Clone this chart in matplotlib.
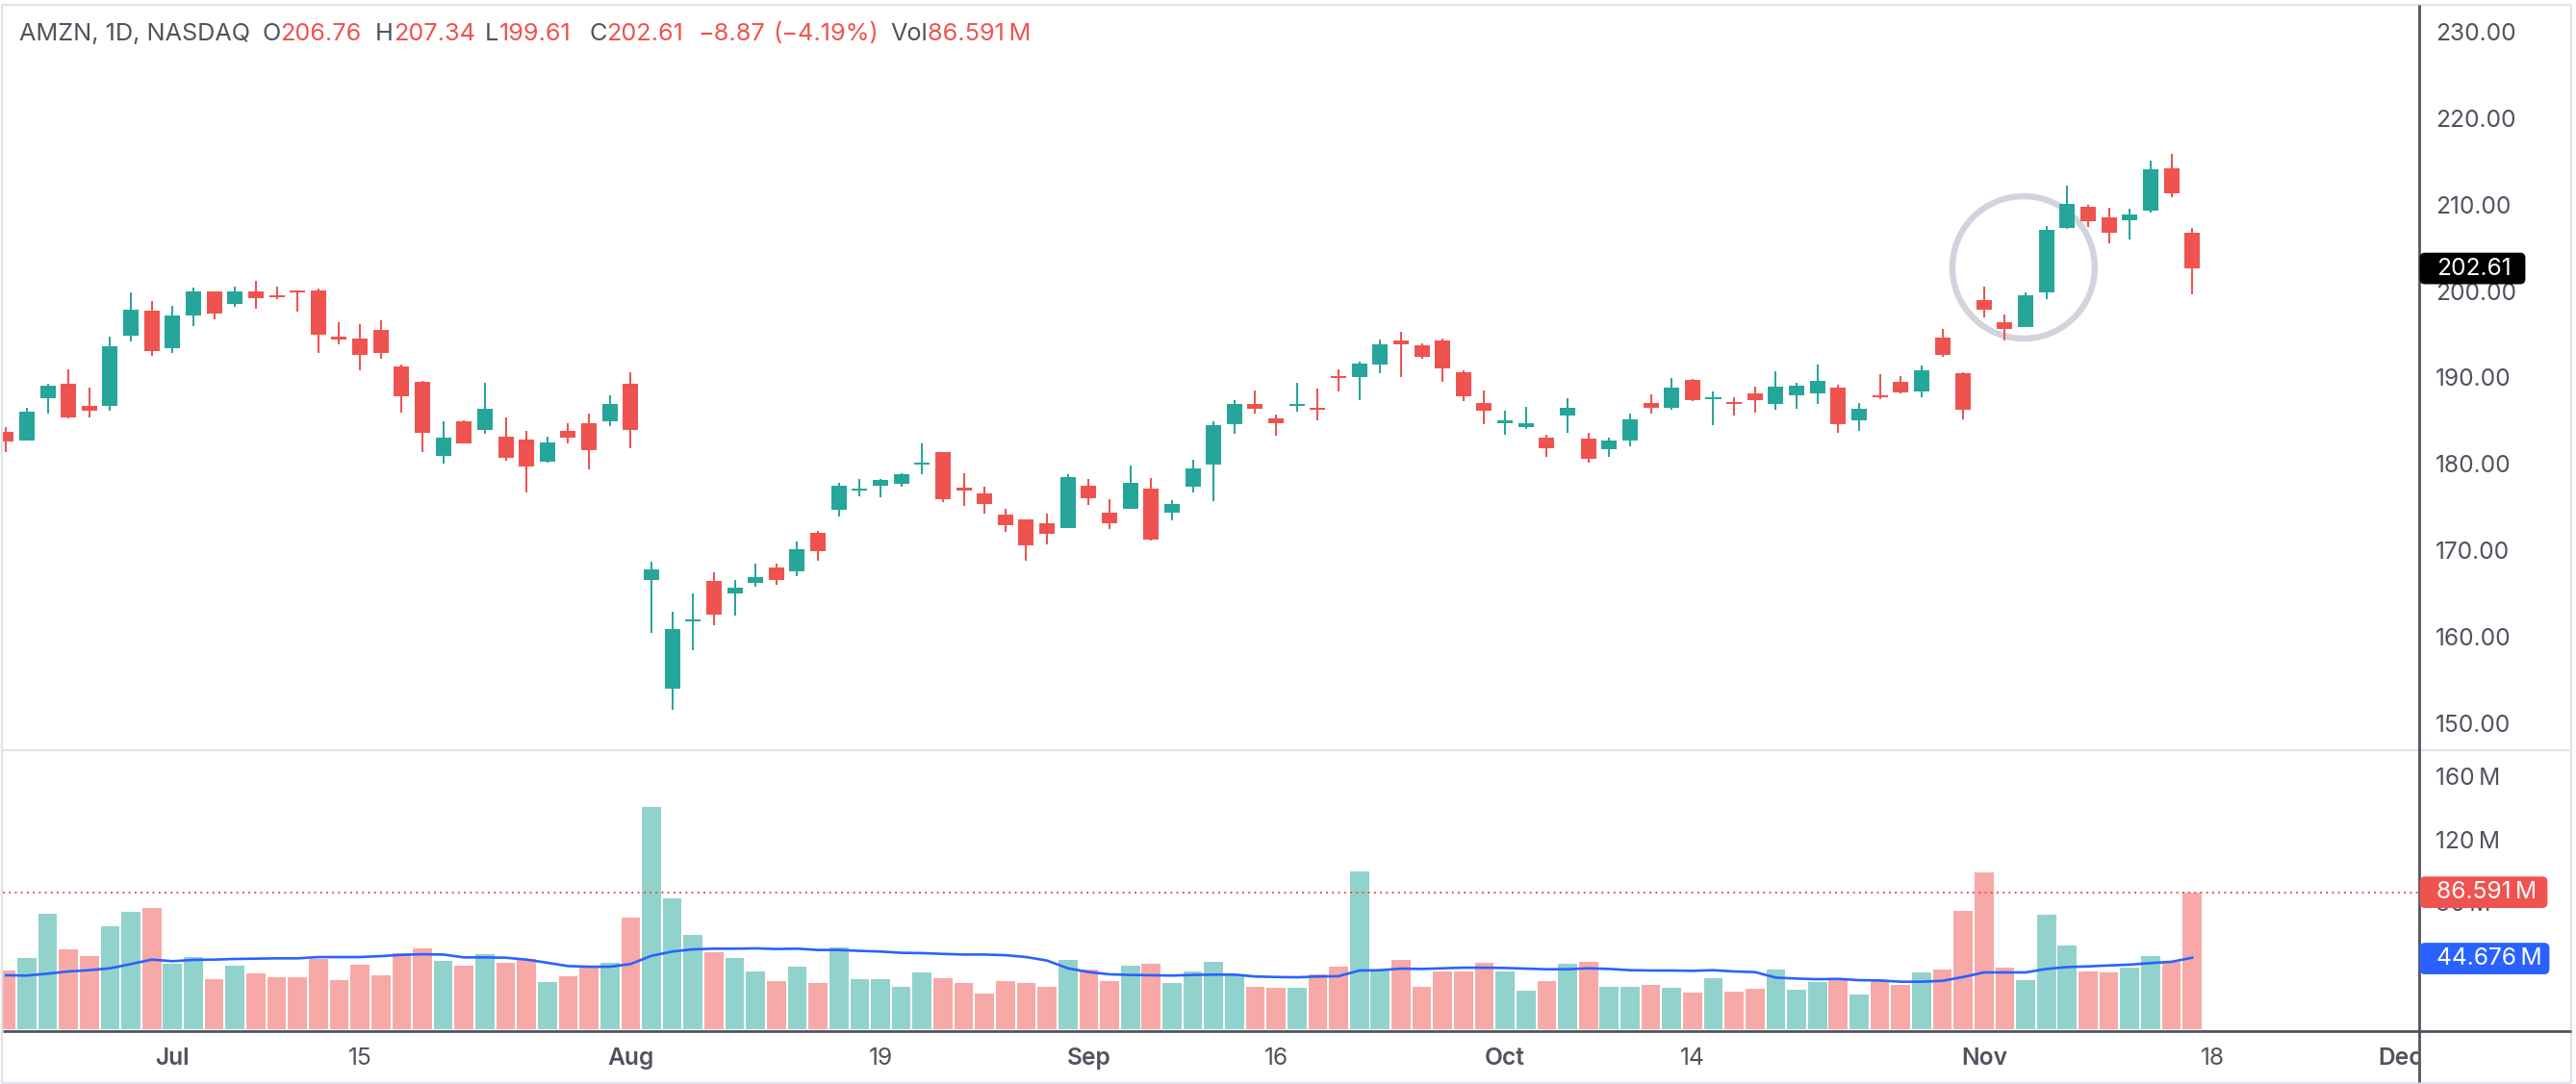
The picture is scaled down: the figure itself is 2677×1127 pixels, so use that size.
import matplotlib
matplotlib.use("Agg")
import matplotlib.pyplot as plt
from matplotlib.patches import Ellipse, FancyBboxPatch
from matplotlib.transforms import Bbox, TransformedBbox

plt.rcParams["font.family"] = ["Inter", "DejaVu Sans"]

# daily candles
opens = [183.71, 182.69, 187.59, 189.28, 186.72, 186.72, 194.81, 197.71, 193.38, 197.18,
         199.97, 198.50, 199.97, 199.52, 200.08, 200.08, 194.74, 194.51, 195.49, 191.27,
         189.47, 180.92, 184.91, 183.93, 183.14, 182.81, 180.25, 183.82, 184.69, 184.92,
         189.26, 166.54, 153.96, 161.75, 166.43, 164.98, 166.21, 167.99, 167.54, 172.00,
         174.67, 176.90, 177.46, 177.68, 179.91, 181.35, 177.23, 176.56, 174.11, 173.56,
         173.11, 172.56, 177.46, 174.34, 174.78, 177.12, 174.34, 177.34, 179.91, 184.58,
         186.92, 185.25, 186.70, 186.47, 190.15, 190.04, 191.49, 194.27, 193.71, 194.27,
         190.59, 187.03, 184.69, 184.25, 183.02, 185.58, 182.91, 181.69, 182.69, 187.03,
         186.47, 189.70, 187.48, 187.14, 188.14, 186.92, 187.92, 188.14, 188.81, 185.03,
         187.92, 189.48, 188.37, 194.60, 190.48, 198.95, 196.39, 195.83, 199.84, 207.30,
         209.75, 208.52, 208.19, 209.30, 214.20, 206.76]
highs = [184.24, 186.49, 189.28, 190.94, 188.83, 194.74, 199.86, 198.84, 198.27, 200.38,
         199.97, 200.49, 201.17, 200.49, 200.08, 200.27, 196.39, 196.17, 196.62, 191.50,
         189.58, 184.91, 185.03, 189.39, 185.37, 183.78, 183.14, 184.69, 185.81, 187.92,
         190.60, 168.66, 162.87, 164.98, 167.43, 166.54, 168.44, 168.44, 171.00, 172.22,
         177.79, 178.24, 178.24, 178.90, 182.36, 181.35, 178.90, 177.34, 174.78, 173.56,
         174.23, 178.79, 178.24, 175.90, 179.79, 178.35, 175.79, 180.46, 184.92, 187.37,
         188.48, 185.70, 189.37, 188.70, 190.93, 191.82, 194.38, 195.27, 193.94, 194.49,
         190.82, 188.48, 186.14, 186.59, 183.36, 187.59, 183.58, 183.02, 185.81, 188.03,
         189.93, 189.82, 188.37, 187.70, 188.92, 190.71, 189.37, 191.49, 189.15, 187.03,
         190.37, 190.15, 191.37, 195.61, 190.59, 200.51, 197.28, 199.84, 207.52, 212.20,
         209.97, 209.64, 209.53, 215.09, 215.87, 207.34]
lows = [181.38, 182.69, 185.82, 185.25, 185.37, 186.16, 194.17, 192.48, 192.82, 195.94,
        196.73, 198.16, 197.94, 199.06, 197.60, 192.82, 193.83, 190.82, 192.14, 185.93,
        181.38, 180.02, 182.35, 183.48, 180.36, 176.67, 180.13, 182.35, 179.35, 184.36,
        181.80, 160.42, 151.51, 158.41, 161.31, 162.42, 165.76, 165.99, 166.99, 168.77,
        173.89, 176.23, 176.12, 177.34, 178.79, 175.56, 175.12, 174.23, 172.11, 168.77,
        170.66, 172.56, 175.23, 172.44, 174.78, 171.11, 173.45, 176.68, 175.67, 183.47,
        185.81, 183.24, 186.03, 185.03, 188.37, 187.37, 190.48, 190.04, 192.15, 189.48,
        187.25, 184.58, 183.36, 184.02, 180.80, 183.58, 180.13, 180.80, 182.02, 185.81,
        186.25, 187.25, 184.47, 185.58, 185.92, 186.25, 186.36, 186.92, 183.58, 183.80,
        187.48, 188.15, 187.70, 192.38, 185.14, 196.94, 194.27, 195.83, 199.06, 207.19,
        207.41, 205.52, 205.96, 209.08, 210.86, 199.61]
closes = [182.58, 186.04, 189.05, 185.37, 186.16, 193.61, 197.82, 193.04, 197.18, 199.97,
          197.41, 199.97, 199.18, 199.29, 199.85, 194.92, 194.40, 192.59, 192.82, 187.81,
          183.60, 183.03, 182.35, 186.38, 180.70, 179.68, 182.47, 183.03, 181.58, 186.92,
          183.91, 167.77, 160.86, 161.98, 162.53, 165.65, 166.88, 166.54, 170.11, 169.88,
          177.46, 177.12, 178.12, 178.79, 180.13, 175.90, 176.90, 175.34, 172.89, 170.55,
          171.89, 178.46, 176.01, 173.11, 177.79, 171.22, 175.34, 179.46, 184.47, 186.92,
          186.36, 184.69, 186.92, 186.25, 189.93, 191.60, 193.82, 193.82, 192.38, 191.04,
          187.81, 186.14, 185.03, 184.69, 181.80, 186.47, 180.57, 182.69, 185.14, 186.47,
          188.81, 187.37, 187.70, 186.92, 187.37, 188.92, 189.04, 189.59, 184.58, 186.36,
          187.70, 188.26, 190.82, 192.60, 186.25, 197.83, 195.61, 199.50, 207.08, 210.08,
          208.08, 206.74, 208.86, 214.09, 211.31, 202.61]

# volume in millions
volumes = [37.1, 45.0, 73.0, 50.5, 46.2, 65.1, 74.2, 76.6, 41.4, 45.6,
           31.6, 40.1, 35.3, 32.8, 32.8, 44.4, 31.0, 40.8, 34.1, 48.1,
           51.1, 43.2, 40.1, 47.4, 42.0, 44.4, 29.8, 33.5, 39.5, 42.0,
           70.6, 140.5, 82.7, 59.6, 48.7, 45.0, 36.5, 30.4, 39.5, 29.2,
           51.7, 31.6, 31.6, 26.8, 35.9, 32.2, 29.2, 22.5, 30.4, 29.2,
           26.8, 43.8, 37.7, 30.4, 40.1, 41.4, 29.2, 36.5, 42.6, 34.7,
           26.8, 26.2, 26.2, 34.7, 39.5, 99.8, 37.1, 43.8, 26.8, 36.5,
           36.5, 42.0, 36.5, 24.3, 30.4, 41.4, 42.6, 26.8, 26.8, 28.0,
           26.2, 23.1, 32.2, 23.7, 25.5, 37.7, 24.9, 29.8, 31.6, 21.9,
           30.4, 28.0, 35.9, 37.7, 74.8, 99.1, 38.9, 31.0, 72.4, 52.9,
           36.5, 35.9, 38.9, 46.2, 42.6, 86.591]
vol_ma = [34.1, 33.9, 35.1, 36.5, 37.3, 38.5, 41.2, 44.0, 43.0, 43.8,
          44.0, 44.4, 44.6, 44.8, 44.8, 45.6, 45.6, 45.6, 46.2, 47.0,
          47.4, 47.2, 45.4, 45.4, 45.2, 44.0, 42.0, 39.9, 39.5, 39.5,
          41.2, 46.4, 49.1, 50.5, 50.9, 50.9, 51.1, 50.7, 50.9, 50.1,
          50.1, 49.5, 49.1, 48.3, 48.1, 47.6, 47.2, 47.2, 46.8, 45.6,
          43.4, 38.5, 36.1, 34.7, 34.3, 34.1, 33.9, 34.3, 34.5, 34.5,
          33.3, 33.0, 32.8, 33.3, 33.5, 37.1, 37.3, 38.3, 38.1, 38.5,
          38.9, 38.9, 38.7, 38.3, 37.9, 37.9, 38.5, 38.1, 37.3, 37.1,
          37.1, 36.9, 37.3, 36.5, 36.1, 32.6, 32.0, 31.6, 31.8, 31.0,
          30.8, 30.0, 30.0, 30.6, 33.0, 35.9, 35.9, 35.9, 38.1, 39.3,
          39.7, 40.3, 40.8, 41.8, 42.6, 45.2]

last_close = 202.61
last_volume = 86.591
last_ma = 44.676

price_ticks = [150, 160, 170, 180, 190, 200, 210, 220, 230]
vol_ticks = [80, 120, 160]
date_ticks = [8, 17, 30, 42, 52, 61, 72, 81, 95, 106, 115]
date_labels = ["Jul", "15", "Aug", "19", "Sep", "16", "Oct", "14", "Nov", "18", "Dec"]
month_labels = ["Jul", "Aug", "Sep", "Oct", "Nov", "Dec"]

GREEN = "#26a69a"
RED = "#ef5350"
BLUE = "#2962ff"
GREY = "#50535e"
BORDER = "#e0e3eb"
W, H = 2677, 1127
FS = 17.7
FS_HEAD = 18.2

x = list(range(len(closes)))
colors = [GREEN if c >= o else RED for o, c in zip(opens, closes)]
vol_colors = ["#92d2cc" if c == GREEN else "#f7a9a7" for c in colors]

fig = plt.figure(figsize=(W / 100, H / 100), dpi=100, facecolor="white")


def pane(left, top, right, bottom):
    return fig.add_axes([left / W, 1 - bottom / H, (right - left) / W, (bottom - top) / H])


ax = pane(3, 5, 2514, 780)
ax_vol = pane(3, 780, 2514, 1070)
for a in (ax, ax_vol):
    a.set_xlim(-0.15, 115.9)
    a.yaxis.tick_right()
    for s in a.spines.values():
        s.set_visible(False)
    a.patch.set_alpha(0)

# candles
ax.vlines(x, lows, highs, colors=colors, linewidth=1.45, zorder=3)
ax.bar(x, [abs(c - o) for o, c in zip(opens, closes)], bottom=[min(o, c) for o, c in zip(opens, closes)],
       width=0.74, color=colors, linewidth=0, zorder=3)
ax.add_patch(Ellipse((96.9, 202.73), 6.84, 16.48, fill=False, edgecolor="#d1d4dc", linewidth=4.6, zorder=2))
ax.set_ylim(146.83, 233.13)
ax.set_xticks([])
ax.set_yticks(price_ticks)
ax.set_yticklabels(["%.2f" % p for p in price_ticks], fontsize=FS, color=GREY)
ax.tick_params(axis="y", length=0, pad=12.5)

# volume
ax_vol.bar(x, volumes, width=0.91, color=vol_colors, linewidth=0, zorder=2)
ax_vol.plot(x, vol_ma, color=BLUE, linewidth=1.9, zorder=3)
ax_vol.axhline(last_volume, color=RED, linewidth=1.4, linestyle=(0, (1.0, 2.2)), zorder=4)
ax_vol.set_ylim(0, 176.4)
ax_vol.set_yticks(vol_ticks)
ax_vol.set_yticklabels(["%d\u2009M" % v for v in vol_ticks], fontsize=FS, color=GREY)
ax_vol.tick_params(axis="y", length=0, pad=12)
ax_vol.set_xticks(date_ticks)
ax_vol.set_xticklabels(date_labels, fontsize=FS, color=GREY)
ax_vol.tick_params(axis="x", length=0, pad=14)
clip = TransformedBbox(Bbox([[0, 0], [2513 / W, 1]]), fig.transFigure)
for lab in ax_vol.get_xticklabels():
    if lab.get_text() in month_labels:
        lab.set_fontweight("semibold")
    lab.set_clip_box(clip)
    lab.set_clip_on(True)

# frame, axis lines, header and last-value tags drawn in image pixels
over = fig.add_axes([0, 0, 1, 1], zorder=5)
over.set_xlim(0, W)
over.set_ylim(H, 0)
over.axis("off")

for px, py in [((2, 2672), (5, 5)), ((2, 2), (5, 1126)), ((2672, 2672), (5, 1126)),
               ((2, 2672), (1126, 1126)), ((2, 2672), (780, 780))]:
    over.plot(px, py, color=BORDER, linewidth=1.6, solid_capstyle="butt", zorder=1)
over.plot((3, 2672), (1071.7, 1071.7), color=GREY, linewidth=2.0, solid_capstyle="butt", zorder=2)
over.plot((2514, 2514), (5, 1125), color=GREY, linewidth=2.0, solid_capstyle="butt", zorder=2)


def value_tag(a, value, text, color, right):
    y = H - a.transData.transform((0, value))[1]
    over.add_patch(FancyBboxPatch((2516, y - 15), right - 2520, 30, boxstyle="round,pad=0,rounding_size=4",
                                  mutation_aspect=1, facecolor=color, edgecolor=color, linewidth=2, zorder=3))
    over.text(2532, y, text, color="white", fontsize=FS, va="center", ha="left", zorder=4)


value_tag(ax, last_close, "%.2f" % last_close, "#000000", 2627)
value_tag(ax_vol, last_volume, "%.3f\u2009M" % last_volume, RED, 2650)
value_tag(ax_vol, last_ma, "%.3f\u2009M" % last_ma, BLUE, 2652)

header = [(20, "AMZN, 1D, NASDAQ", GREY), (272, "O", GREY), (291, "206.76", RED), (390, "H", GREY),
          (409, "207.34", RED), (504, "L", GREY), (519, "199.61", RED), (612, "C", GREY),
          (630, "202.61", RED), (725, "\u22128.87", RED), (803, "(\u22124.19%)", RED),
          (925, "Vol", GREY), (964, "86.591\u2009M", RED)]
for hx, txt, col in header:
    over.text(hx, 35.5, txt, color=col, fontsize=FS_HEAD, va="center", ha="left")

fig.savefig("out.png", dpi=100, facecolor="white")
